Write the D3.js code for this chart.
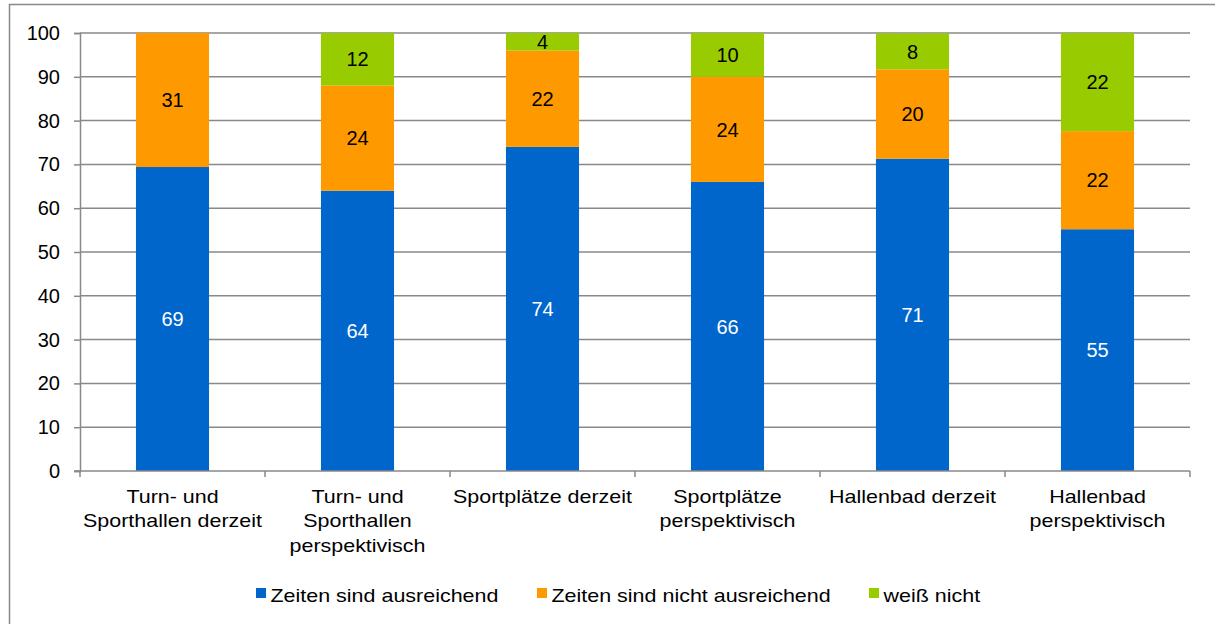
<!DOCTYPE html>
<html>
<head>
<meta charset="utf-8">
<script src="https://cdn.jsdelivr.net/npm/d3@7/dist/d3.min.js"></script>
<style>
    body { margin: 0; background: #fff; }
    text { font-family: "Liberation Sans", Arial, sans-serif; }
</style>
</head>
<body>
<div id="chart"></div>
<script>
    var categories = [
        ["Turn- und", "Sporthallen derzeit"],
        ["Turn- und", "Sporthallen", "perspektivisch"],
        ["Sportplätze derzeit"],
        ["Sportplätze", "perspektivisch"],
        ["Hallenbad derzeit"],
        ["Hallenbad", "perspektivisch"]
    ];
    var seriesNames = ["Zeiten sind ausreichend", "Zeiten sind nicht ausreichend", "weiß nicht"];
    var ausreichend = [69.4, 64, 74, 66, 71.3, 55.2];
    var nichtAusreichend = [30.6, 24, 22, 24, 20.4, 22.4];
    var weissNicht = [0, 12, 4, 10, 8.2, 22.4];
    var yTicks = [0, 10, 20, 30, 40, 50, 60, 70, 80, 90, 100];

    var colors = ["#0066cc", "#ff9900", "#99cc00"];
    var labelColors = ["#fff", "#000", "#000"];
    var gridColor = "#898989";
    var stretch = 1.13; // the source font is drawn a little wide

    var width = 1215, height = 624;
    var plot = { left: 80, right: 1190, top: 33, bottom: 471 };

    var svg = d3.select("#chart").append("svg")
        .attr("width", width)
        .attr("height", height);

    // outer frame (right and bottom run off the picture)
    svg.append("rect")
        .attr("x", 9.5).attr("y", 4.5)
        .attr("width", 1230).attr("height", 650)
        .attr("fill", "none")
        .attr("stroke", gridColor)
        .attr("stroke-width", 1.5);

    var table = categories.map(function(c, i) {
        return { i: i, a: ausreichend[i], n: nichtAusreichend[i], w: weissNicht[i] };
    });
    var stack = d3.stack().keys(["a", "n", "w"])(table);

    var x = d3.scaleBand()
        .domain(d3.range(categories.length))
        .range([plot.left, plot.right])
        .paddingInner(0.605)
        .paddingOuter(0.3025);

    var xOuter = d3.scaleBand()
        .domain(d3.range(categories.length))
        .range([plot.left, plot.right]);

    var y = d3.scaleLinear().domain([0, 100]).range([plot.bottom, plot.top]);

    //gridlines
    svg.append("g").selectAll("line")
        .data(yTicks.filter(function(d) { return d > 0; }))
        .enter().append("line")
        .attr("x1", plot.left).attr("x2", plot.right)
        .attr("y1", function(d) { return y(d); })
        .attr("y2", function(d) { return y(d); })
        .attr("stroke", gridColor)
        .attr("stroke-width", 1.5);

    //y axis
    var yAxis = svg.append("g")
        .attr("transform", "translate(" + plot.left + ",0)")
        .call(d3.axisLeft(y).tickValues(yTicks).tickSize(6).tickPadding(14));
    yAxis.select(".domain").attr("stroke", gridColor).attr("stroke-width", 1.5);
    yAxis.selectAll(".tick line").attr("stroke", gridColor).attr("stroke-width", 1.5);
    yAxis.selectAll(".tick text")
        .attr("font-size", 20)
        .attr("fill", "#000")
        .attr("font-family", "Liberation Sans, Arial, sans-serif");

    //bars
    var layers = svg.append("g").selectAll("g")
        .data(stack)
        .enter().append("g")
        .attr("fill", function(d, i) { return colors[i]; });

    layers.selectAll("rect")
        .data(function(d) { return d; })
        .enter().append("rect")
        .attr("x", function(d) { return x(d.data.i); })
        .attr("width", x.bandwidth())
        .attr("y", function(d) { return y(d[1]); })
        .attr("height", function(d) { return y(d[0]) - y(d[1]); });

    //value labels
    stack.forEach(function(layer, k) {
        svg.append("g").selectAll("text")
            .data(layer.filter(function(d) { return d[1] - d[0] > 0; }))
            .enter().append("text")
            .attr("x", function(d) { return x(d.data.i) + x.bandwidth() / 2; })
            .attr("y", function(d) { return y((d[0] + d[1]) / 2); })
            .attr("dy", "0.36em")
            .attr("text-anchor", "middle")
            .attr("font-size", 20)
            .attr("fill", labelColors[k])
            .text(function(d) { return Math.round(d[1] - d[0]); });
    });

    //x axis line and category ticks
    svg.append("line")
        .attr("x1", plot.left - 6).attr("x2", plot.right)
        .attr("y1", plot.bottom).attr("y2", plot.bottom)
        .attr("stroke", gridColor).attr("stroke-width", 1.5);

    svg.append("g").selectAll("line")
        .data(d3.range(categories.length + 1))
        .enter().append("line")
        .attr("x1", function(d) { return plot.left + d * xOuter.step(); })
        .attr("x2", function(d) { return plot.left + d * xOuter.step(); })
        .attr("y1", plot.bottom).attr("y2", plot.bottom + 6)
        .attr("stroke", gridColor).attr("stroke-width", 1.5);

    //category labels
    var catLabels = svg.append("g").selectAll("text")
        .data(categories)
        .enter().append("text")
        .attr("text-anchor", "middle")
        .attr("font-size", 19)
        .attr("fill", "#000")
        .attr("transform", function(d, i) {
            return "translate(" + (xOuter(i) + xOuter.bandwidth() / 2) + ",503) scale(" + stretch + ",1)";
        });

    catLabels.selectAll("tspan")
        .data(function(d) { return d; })
        .enter().append("tspan")
        .attr("x", 0)
        .attr("y", function(d, i) { return i * 24.5; })
        .text(function(d) { return d; });

    //legend
    var legendX = [256, 537, 869];
    var legend = svg.append("g").selectAll("g")
        .data(seriesNames)
        .enter().append("g")
        .attr("transform", function(d, i) { return "translate(" + legendX[i] + ",588)"; });

    legend.append("rect")
        .attr("x", 0).attr("y", 0)
        .attr("width", 10).attr("height", 10)
        .attr("fill", function(d, i) { return colors[i]; });

    legend.append("text")
        .attr("transform", "translate(14.5,14) scale(" + stretch + ",1)")
        .attr("font-size", 19)
        .attr("fill", "#000")
        .text(function(d) { return d; });
</script>
</body>
</html>
